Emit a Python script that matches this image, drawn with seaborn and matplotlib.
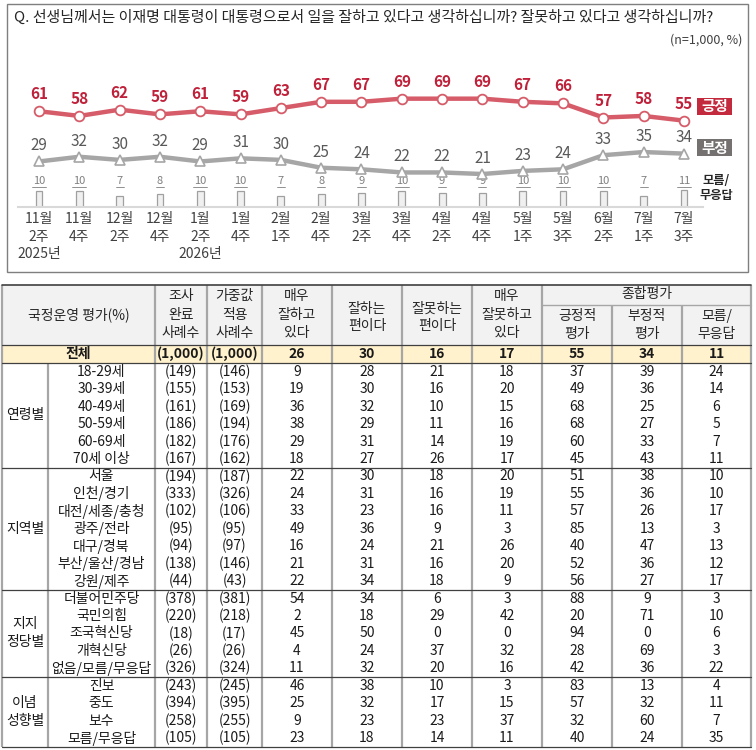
import matplotlib
matplotlib.use("Agg")
import matplotlib.pyplot as plt
import seaborn as sns
import pandas as pd
from matplotlib.patches import Rectangle

# ---------------- data: line chart ----------------
weeks = ["11월\n2주", "11월\n4주", "12월\n2주", "12월\n4주", "1월\n2주", "1월\n4주",
         "2월\n1주", "2월\n4주", "3월\n2주", "3월\n4주", "4월\n2주", "4월\n4주",
         "5월\n1주", "5월\n3주", "6월\n2주", "7월\n1주", "7월\n3주"]
positive = [61, 58, 62, 59, 61, 59, 63, 67, 67, 69, 69, 69, 67, 66, 57, 58, 55]
negative = [29, 32, 30, 32, 29, 31, 30, 25, 24, 22, 22, 21, 23, 24, 33, 35, 34]
dont_know = [10, 10, 7, 8, 10, 10, 7, 8, 9, 10, 9, 9, 10, 10, 10, 7, 11]
years = ["2025년", "2026년"]
year_at = [0, 4]
title = "Q. 선생님께서는 이재명 대통령이 대통령으로서 일을 잘하고 있다고 생각하십니까? 잘못하고 있다고 생각하십니까?"
note = "(n=1,000, %)"
series_names = ["긍정", "부정", "모름/\n무응답"]

# ---------------- data: table ----------------
header_first = "국정운영 평가(%)"
col_headers = ["조사\n완료\n사례수", "가중값\n적용\n사례수", "매우\n잘하고\n있다", "잘하는\n편이다",
               "잘못하는\n편이다", "매우\n잘못하고\n있다", "긍정적\n평가", "부정적\n평가", "모름/\n무응답"]
group_header = "종합평가"
total_label = "전체"
total_values = ["(1,000)", "(1,000)", "26", "30", "16", "17", "55", "34", "11"]
groups = ["연령별", "지역별", "지지\n정당별", "이념\n성향별"]
group_sizes = [6, 7, 5, 4]
row_labels = ["18-29세", "30-39세", "40-49세", "50-59세", "60-69세", "70세 이상",
              "서울", "인천/경기", "대전/세종/충청", "광주/전라", "대구/경북", "부산/울산/경남", "강원/제주",
              "더불어민주당", "국민의힘", "조국혁신당", "개혁신당", "없음/모름/무응답",
              "진보", "중도", "보수", "모름/무응답"]
n_done = [149, 155, 161, 186, 182, 167, 194, 333, 102, 95, 94, 138, 44, 378, 220, 18, 26, 326, 243, 394, 258, 105]
n_weighted = [146, 153, 169, 194, 176, 162, 187, 326, 106, 95, 97, 146, 43, 381, 218, 17, 26, 324, 245, 395, 255, 105]
very_good = [9, 19, 36, 38, 29, 18, 22, 24, 33, 49, 16, 21, 22, 54, 2, 45, 4, 11, 46, 25, 9, 23]
good = [28, 30, 32, 29, 31, 27, 30, 31, 23, 36, 24, 31, 34, 34, 18, 50, 24, 32, 38, 32, 23, 18]
bad = [21, 16, 10, 11, 14, 26, 18, 16, 16, 9, 21, 16, 18, 6, 29, 0, 37, 20, 10, 17, 23, 14]
very_bad = [18, 20, 15, 16, 19, 17, 20, 19, 11, 3, 26, 20, 9, 3, 42, 0, 32, 16, 3, 15, 37, 11]
pos_eval = [37, 49, 68, 68, 60, 45, 51, 55, 57, 85, 40, 52, 56, 88, 20, 94, 28, 42, 83, 57, 32, 40]
neg_eval = [39, 36, 25, 27, 33, 43, 38, 36, 26, 13, 47, 36, 27, 9, 71, 0, 69, 36, 13, 32, 60, 24]
dk_eval = [24, 14, 6, 5, 7, 11, 10, 10, 17, 3, 13, 12, 17, 3, 10, 6, 3, 22, 4, 11, 7, 35]

# ---------------- style ----------------
sns.set_theme(style="white")
plt.rcParams['font.family'] = ['Noto Sans CJK KR', 'DejaVu Sans']

RED_LINE = "#d65c69"
RED_TXT = "#c0213a"
RED_BOX = "#c32a3e"
GRAY_LINE = "#a6a6a6"
GRAY_TXT = "#595959"
GRAY_BOX = "#767171"
TXT = "#262626"

W, H = 756, 750
fig = plt.figure(figsize=(W / 100, H / 100), dpi=100)
bg = fig.add_axes([0, 0, 1, 1])
bg.set_xlim(0, W)
bg.set_ylim(H, 0)
bg.axis("off")

# chart frame + title
bg.add_patch(Rectangle((7, 4), 741, 268, fill=False, ec="#7f7f7f", lw=1.0))
bg.text(14, 17, title, fontsize=10.8, color=TXT, ha="left", va="center")
bg.text(742, 40, note, fontsize=9, color="#404040", ha="right", va="center")

# ---------------- line chart axes ----------------
PX0, PX1 = 18, 703
YB, YT = 207, 60
X_FIRST, X_LAST = 39, 684
dx = (X_LAST - X_FIRST) / (len(weeks) - 1)
PPU = 1.57
ax = fig.add_axes([PX0 / W, 1 - YB / H, (PX1 - PX0) / W, (YB - YT) / H])
ax.patch.set_alpha(0)

df = pd.DataFrame({"idx": list(range(len(weeks))), "week": weeks,
                   "pos": positive, "neg": negative, "dk": dont_know})

sns.barplot(data=df, x="idx", y="dk", native_scale=True, orient="x", width=0.17,
            color="#f0f0f0", saturation=1, edgecolor="#a0a0a0", linewidth=0.9, ax=ax)
sns.lineplot(data=df, x="idx", y="pos", color=RED_LINE, lw=3.2, marker="o", markersize=7,
             markerfacecolor="white", markeredgecolor=RED_LINE, markeredgewidth=1.3, ax=ax, zorder=5)
sns.lineplot(data=df, x="idx", y="neg", color=GRAY_LINE, lw=3.2, marker="^", markersize=7.4,
             markerfacecolor="white", markeredgecolor=GRAY_LINE, markeredgewidth=1.2, ax=ax, zorder=5)

ax.set_xlim(-(X_FIRST - PX0) / dx, (len(weeks) - 1) + (PX1 - X_LAST) / dx)
ax.set_ylim(0, (YB - YT) / PPU)

for i, v in enumerate(positive):
    ax.text(i, v + 10.8, str(v), ha="center", va="center", fontsize=11, fontweight="bold", color=RED_TXT)
for i, v in enumerate(negative):
    ax.text(i, v + 10.0, str(v), ha="center", va="center", fontsize=11, color=GRAY_TXT)
lab_y = (YB - 181) / PPU
ul_y = (YB - 187) / PPU
for i, v in enumerate(dont_know):
    s = str(v)
    ax.text(i, lab_y, s, ha="center", va="center", fontsize=8, fontstyle="italic", color="#7f7f7f")
    hw = 0.07 * len(s) + 0.03
    ax.plot([i - hw, i + hw], [ul_y, ul_y], color="#7f7f7f", lw=0.6)

ax.set_xticks(list(range(len(weeks))))
ax.set_xticklabels(weeks, fontsize=10, color="#404040", linespacing=1.35)
ax.tick_params(axis="x", length=0, pad=3.5)
ax.set_yticks([])
ax.set_xlabel("")
ax.set_ylabel("")
for s in ["top", "left", "right"]:
    ax.spines[s].set_visible(False)
ax.spines["bottom"].set_color("#d9d9d9")
ax.spines["bottom"].set_linewidth(1.5)

for lab, i in zip(years, year_at):
    bg.text(X_FIRST + i * dx, 254, lab, fontsize=10, color="#404040", ha="center", va="center")

# legend boxes
bg.add_patch(Rectangle((697, 98), 35, 17, fc=RED_BOX, ec="none"))
bg.text(714.5, 106.5, series_names[0], fontsize=10.5, fontweight="bold", color="white", ha="center", va="center")
bg.add_patch(Rectangle((697, 139), 35, 17, fc=GRAY_BOX, ec="none"))
bg.text(714.5, 147.5, series_names[1], fontsize=10.5, fontweight="bold", color="white", ha="center", va="center")
for k, line in enumerate(series_names[2].split("\n")):
    bg.text(716, 181 + k * 14, line, fontsize=8.8, fontweight="bold", color=TXT, ha="center", va="center")

# ---------------- table ----------------
cx = [2, 48, 155, 207, 262, 332, 402, 472, 542, 612, 682, 751]
T_TOP, H_BOT, T_ROW_BOT = 285, 345, 363
RH = 17.45
n_rows = len(row_labels)
T_BOT = T_ROW_BOT + n_rows * RH
FS = 10
LINE_DARK = "#404040"
LINE_GRAY = "#a6a6a6"

bg.add_patch(Rectangle((cx[0], T_TOP), cx[-1] - cx[0], H_BOT - T_TOP, fc="#f2f2f2", ec="none"))
bg.add_patch(Rectangle((cx[0], H_BOT), cx[-1] - cx[0], T_ROW_BOT - H_BOT, fc="#fff2cc", ec="none"))


def multiline(x, ys, text, **kw):
    for y, line in zip(ys, text.split("\n")):
        bg.text(x, y, line, ha="center", va="center", **kw)


def centers(c):
    return (cx[c] + cx[c + 1]) / 2


multiline((cx[0] + cx[2]) / 2, [315], header_first, fontsize=FS, color=TXT)
for j, h in enumerate(col_headers):
    c = j + 2
    nl = h.count("\n") + 1
    if c >= 8:
        ys = [316, 334]
    elif nl == 3:
        ys = [296, 314.5, 333]
    else:
        ys = [308.5, 326]
    multiline(centers(c), ys, h, fontsize=FS, color=TXT)
multiline((cx[8] + cx[11]) / 2, [294], group_header, fontsize=FS, color=TXT)

ty = (H_BOT + T_ROW_BOT) / 2
bg.text((cx[0] + cx[2]) / 2, ty, total_label, ha="center", va="center", fontsize=FS, fontweight="bold", color="#1a1a1a")
for j, v in enumerate(total_values):
    bg.text(centers(j + 2), ty, v, ha="center", va="center", fontsize=FS, fontweight="bold", color="#1a1a1a")

cols = [[f"({v})" for v in n_done], [f"({v})" for v in n_weighted], very_good, good, bad, very_bad,
        pos_eval, neg_eval, dk_eval]
for i in range(n_rows):
    y = T_ROW_BOT + (i + 0.5) * RH
    bg.text(centers(1), y, row_labels[i], ha="center", va="center", fontsize=FS, color="#1a1a1a")
    for j, col in enumerate(cols):
        bg.text(centers(j + 2), y, str(col[i]), ha="center", va="center", fontsize=FS, color="#1a1a1a")

start = 0
seps = []
for g, n in zip(groups, group_sizes):
    gy0 = T_ROW_BOT + start * RH
    gy1 = T_ROW_BOT + (start + n) * RH
    nl = g.count("\n") + 1
    mid = (gy0 + gy1) / 2
    ys = [mid + (k - (nl - 1) / 2) * 18 for k in range(nl)]
    multiline(centers(0), ys, g, fontsize=FS, color="#1a1a1a")
    start += n
    seps.append(gy1)

# vertical lines
for k, x in enumerate(cx):
    if k == 1:
        y0 = T_ROW_BOT
    elif k in (9, 10):
        y0 = 305
    else:
        y0 = T_TOP
    bg.plot([x, x], [y0, T_BOT], color=LINE_GRAY, lw=1.6, solid_capstyle="butt")
bg.plot([cx[8], cx[11]], [305, 305], color=LINE_GRAY, lw=1.0)
# horizontal lines
bg.plot([cx[0], cx[-1]], [T_TOP, T_TOP], color=LINE_DARK, lw=1.2)
for y in [H_BOT, T_ROW_BOT] + seps:
    bg.plot([cx[0], cx[-1]], [y, y], color=LINE_DARK, lw=0.9)

fig.savefig("out.png", dpi=100)
